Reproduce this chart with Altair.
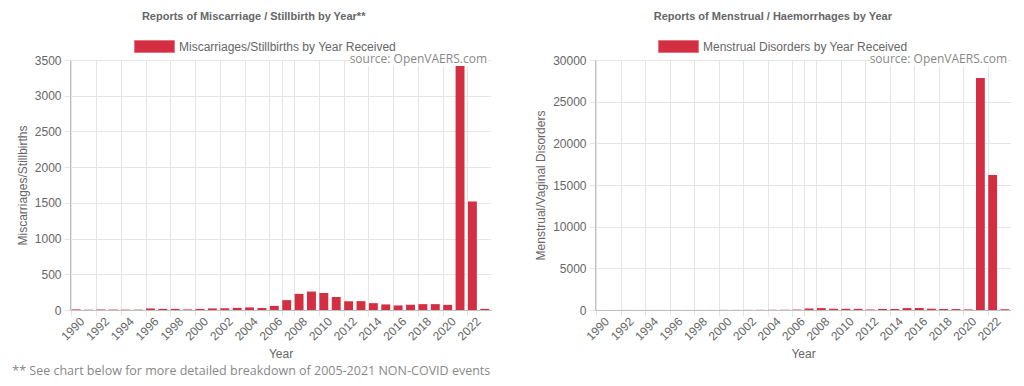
import altair as alt
import pandas as pd

years = [str(y) for y in range(1990, 2024)]
miscarriage = [8, 4, 6, 6, 5, 5, 22, 16, 16, 8, 15, 22, 24, 30, 36, 28, 58, 138,
               226, 258, 238, 182, 122, 124, 96, 78, 64, 74, 82, 82, 72, 3425, 1518, 16]
menstrual = [4, 3, 5, 4, 6, 5, 8, 6, 7, 6, 15, 12, 18, 20, 25, 30, 50, 180,
             230, 150, 140, 140, 60, 130, 120, 230, 240, 160, 120, 110, 70, 27850, 16200, 90]
grid_years = [str(y) for y in range(1990, 2023, 2)] + ["2007"]

BAR = "#d42e43"
GREY = "#666666"
SANS = "Liberation Sans"
GEO = "Open Sans"
SOURCE = "source: OpenVAERS.com"


def panel(values, title, legend_label, y_title, y_max, y_step, width, height, legend_x):
    df = pd.DataFrame({"Year": years, "Reports": values, "series": legend_label})
    band = width / len(years)
    bars = alt.Chart(df).mark_bar(strokeWidth=0).encode(
        x=alt.X("Year:N", sort=years, title="Year",
                scale=alt.Scale(paddingInner=0.28, paddingOuter=0.14),
                axis=alt.Axis(values=grid_years, bandPosition=0, labelOffset=band / 2,
                              labelExpr="datum.label == '2007' ? '' : datum.label",
                              labelAngle=-45, labelAlign="right", labelBaseline="middle",
                              labelPadding=3, tickSize=6, tickColor="#e5e5e5",
                              grid=True, gridColor="#e5e5e5", domainColor="#bfbfbf",
                              titlePadding=6)),
        y=alt.Y("Reports:Q", title=y_title,
                scale=alt.Scale(domain=[0, y_max], nice=False),
                axis=alt.Axis(values=list(range(0, y_max + 1, y_step)), format="d",
                              tickSize=6, tickColor="#e5e5e5", gridColor="#e5e5e5",
                              domainColor="#bfbfbf", labelPadding=3, titlePadding=5)),
        color=alt.Color("series:N", scale=alt.Scale(domain=[legend_label], range=[BAR]),
                        legend=alt.Legend(orient="none", legendX=legend_x, legendY=-34,
                                          title=None, direction="horizontal",
                                          symbolType="M-1,-0.3H1V0.3H-1Z", symbolSize=1600,
                                          symbolStrokeColor="#e57381", symbolStrokeWidth=1,
                                          labelFont=SANS, labelFontSize=12, labelColor=GREY,
                                          labelOffset=4, labelLimit=400, padding=0)),
    )
    src = pd.DataFrame({"t": [SOURCE]})
    bg = alt.Chart(src).mark_rect(color="white").encode(
        x=alt.value(width - 140), x2=alt.value(width - 3), y=alt.value(-6), y2=alt.value(6))
    txt = alt.Chart(src).mark_text(font=GEO, fontSize=12, color="#888888",
                                   align="right", baseline="middle").encode(
        text="t:N", x=alt.value(width - 4), y=alt.value(-1))
    return alt.layer(bars, bg, txt).properties(
        width=width, height=height,
        title=alt.TitleParams(title, fontSize=11, fontWeight="bold", color=GREY, font=SANS,
                              anchor="middle", frame="bounds", offset=4),
    ).resolve_scale(color="independent")


left = panel(miscarriage, "Reports of Miscarriage / Stillbirth by Year**",
             "Miscarriages/Stillbirths by Year Received", "Miscarriages/Stillbirths",
             3500, 500, 421, 250, 64)
right = panel(menstrual, "Reports of Menstrual / Haemorrhages by Year",
              "Menstrual Disorders by Year Received", "Menstrual/Vaginal Disorders",
              30000, 5000, 416, 250, 63)

chart = alt.hconcat(left, right, spacing=43).resolve_scale(color="independent").properties(
    padding={"left": 4, "top": 3, "right": 0, "bottom": 0},
    title=alt.TitleParams("** See chart below for more detailed breakdown of 2005-2021 NON-COVID events",
                          orient="bottom", anchor="start", frame="bounds", font=GEO,
                          fontSize=12.5, fontWeight="normal", color="#888888", offset=6, dx=-4),
).configure_view(stroke=None).configure_axis(
    labelFont=SANS, labelFontSize=12, labelColor=GREY,
    titleFont=SANS, titleFontSize=12, titleColor=GREY, titleFontWeight="normal",
)

chart.save("out.html", embed_options={"renderer": "svg", "actions": False})
